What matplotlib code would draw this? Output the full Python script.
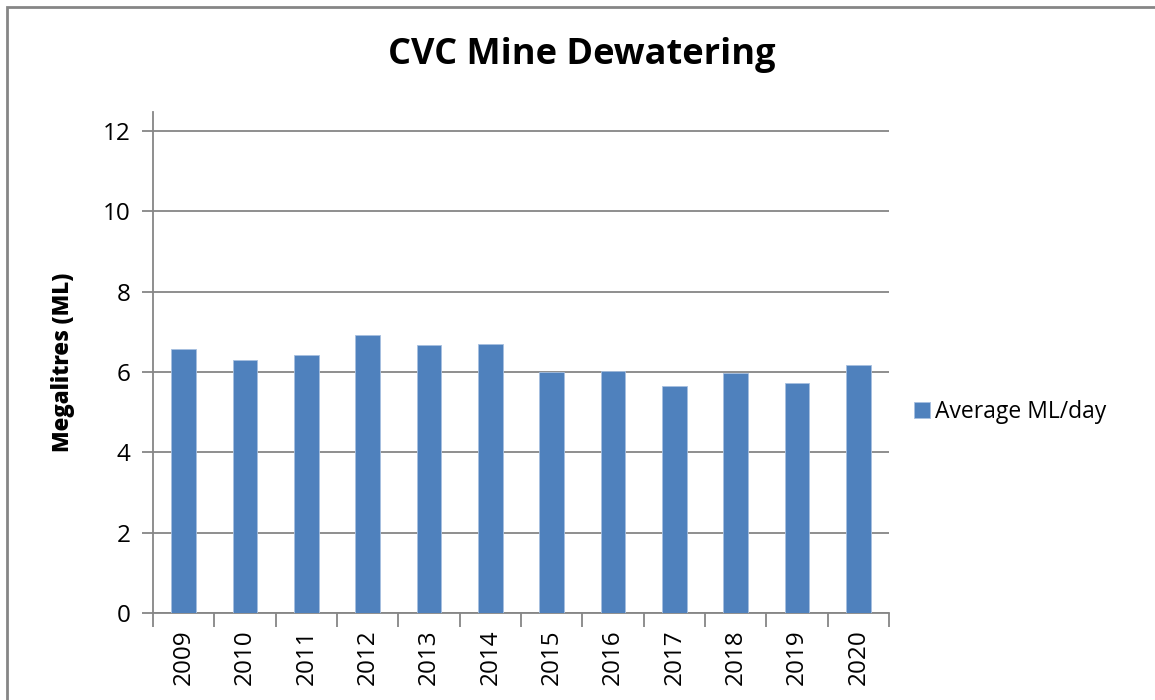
import matplotlib.pyplot as plt
from matplotlib.patches import Rectangle

# Average daily dewatering volume per year
years = ["2009", "2010", "2011", "2012", "2013", "2014",
         "2015", "2016", "2017", "2018", "2019", "2020"]
avg_ml_day = [6.56, 6.29, 6.43, 6.92, 6.66, 6.69,
              6.01, 6.02, 5.66, 5.98, 5.72, 6.17]
yticks = [0, 2, 4, 6, 8, 10, 12]

plt.rcParams["font.family"] = ["Open Sans", "DejaVu Sans"]

W, H = 1155, 700
fig = plt.figure(figsize=(W / 100, H / 100), dpi=100)

# axes box in pixel coordinates: left, top, right, bottom
left, top, right, bottom = 153, 112, 889, 613
ax = fig.add_axes([left / W, 1 - bottom / H, (right - left) / W, (bottom - top) / H])

ax.bar(range(len(years)), avg_ml_day, width=0.4, color="#4F81BD",
       edgecolor="#A7C0E0", linewidth=0.6, label="Average ML/day", zorder=3)

ax.set_xlim(-0.5, len(years) - 0.5)
ax.set_ylim(0, 12.47)
ax.set_yticks(yticks)
ax.set_yticklabels([str(t) for t in yticks], fontsize=17.5)
ax.yaxis.grid(True, color="#868686", linewidth=1.3, zorder=0)
ax.tick_params(axis="y", length=8, width=1.3, color="#868686", pad=8)

# category labels centred under bars, ticks on the category boundaries
ax.set_xticks(range(len(years)))
ax.set_xticklabels(years, rotation=90, fontsize=17.5)
ax.tick_params(axis="x", length=0, pad=12)
ax.set_xticks([i - 0.5 for i in range(len(years) + 1)], minor=True)
ax.tick_params(axis="x", which="minor", length=10, width=1.3, color="#868686")

for side in ("top", "right"):
    ax.spines[side].set_visible(False)
for side in ("left", "bottom"):
    ax.spines[side].set_color("#868686")
    ax.spines[side].set_linewidth(1.3)

ax.set_ylabel("Megalitres (ML)", fontsize=16, fontweight="heavy", labelpad=20)

fig.text(582 / W, 1 - 55 / H, "CVC Mine Dewatering", fontsize=26,
         fontweight="bold", ha="center", va="center")

ax.legend(loc="center left", bbox_to_anchor=(893 / W, 1 - 412 / H),
          bbox_transform=fig.transFigure, frameon=False, fontsize=16.5,
          handlelength=0.7, handleheight=0.7, handletextpad=0.25)

# outer chart border
fig.patches.append(Rectangle((7 / W, -0.1), 1.2, 1 - 7 / H + 0.1,
                             transform=fig.transFigure, fill=False,
                             edgecolor="#868686", linewidth=2))

fig.savefig("out.png", dpi=100)
